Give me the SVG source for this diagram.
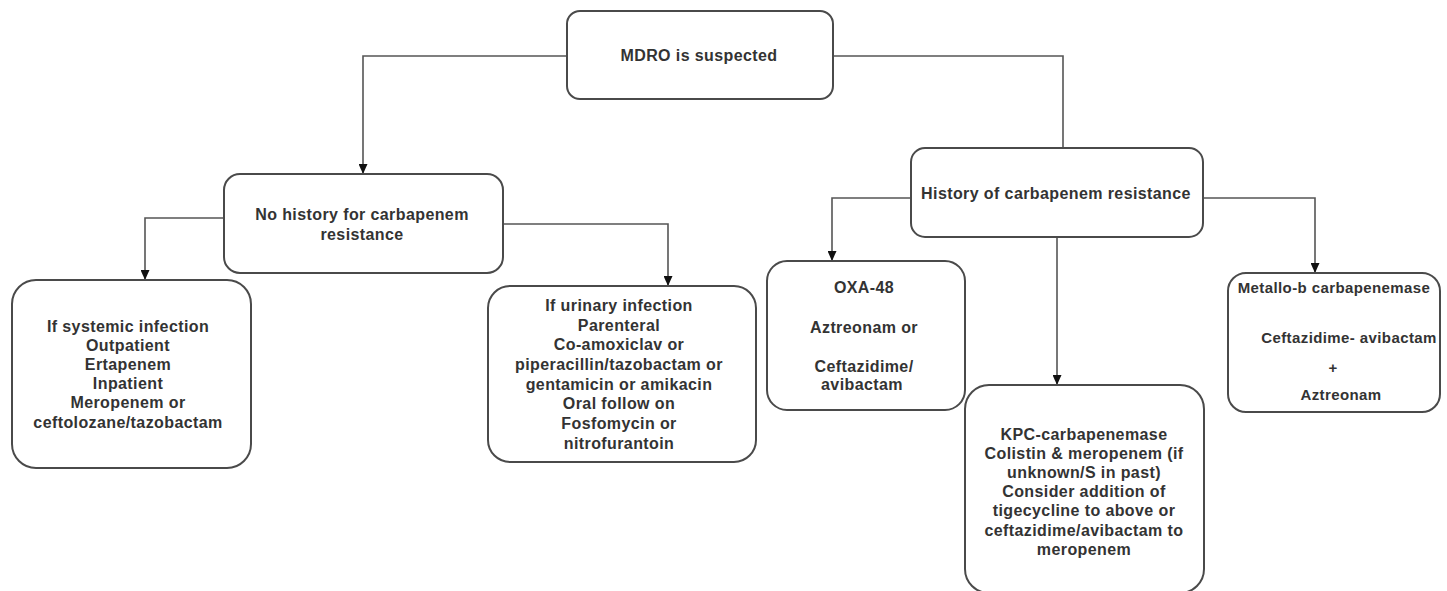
<svg xmlns="http://www.w3.org/2000/svg" width="1447" height="591" viewBox="0 0 1447 591">
  <style>
    .box { fill: #ffffff; stroke: #4a4a4a; stroke-width: 2; }
    .conn { fill: none; stroke: #555555; stroke-width: 1.6; }
    text { font-family: "Liberation Sans", Arial, sans-serif; font-weight: bold; font-size: 16px; letter-spacing: 0.4px; fill: #333333; text-anchor: middle; }
    .small { font-size: 15px; }
  </style>
  <defs>
    <marker id="arrow" markerWidth="10" markerHeight="9" refX="10" refY="4.5" orient="auto" markerUnits="userSpaceOnUse">
      <path d="M0,0 L10,4.5 L0,9 z" fill="#111111"/>
    </marker>
  </defs>
  <rect width="1447" height="591" fill="#ffffff"/>

  <g id="connectors">
    <path class="conn" d="M567,56 H363 V174" marker-end="url(#arrow)"/>
    <path class="conn" d="M833,56 H1063 V148"/>
    <path class="conn" d="M225,218 H145 V280" marker-end="url(#arrow)"/>
    <path class="conn" d="M503,224 H668 V286" marker-end="url(#arrow)"/>
    <path class="conn" d="M916,198 H832 V261" marker-end="url(#arrow)"/>
    <path class="conn" d="M1203,198 H1315 V273" marker-end="url(#arrow)"/>
    <path class="conn" d="M1057,237 V385" marker-end="url(#arrow)"/>
  </g>

  <g id="node-mdro">
    <rect class="box" x="567" y="11" width="266" height="88" rx="13"/>
    <text x="699" y="61">MDRO is suspected</text>
  </g>

  <g id="node-no-history">
    <rect class="box" x="224" y="174" width="279" height="99" rx="16"/>
    <text x="362" y="220">No history for carbapenem</text>
    <text x="362" y="240">resistance</text>
  </g>

  <g id="node-history">
    <rect class="box" x="911" y="148" width="292" height="89" rx="14"/>
    <text x="1056" y="199">History of carbapenem resistance</text>
  </g>

  <g id="node-systemic">
    <rect class="box" x="12" y="280" width="239" height="188" rx="24"/>
    <text x="128" y="332">If systemic infection</text>
    <text x="128" y="351">Outpatient</text>
    <text x="128" y="370">Ertapenem</text>
    <text x="128" y="389">Inpatient</text>
    <text x="128" y="408">Meropenem or</text>
    <text x="128" y="428">ceftolozane/tazobactam</text>
  </g>

  <g id="node-urinary">
    <rect class="box" x="488" y="286" width="268" height="176" rx="22"/>
    <text x="619" y="311">If urinary infection</text>
    <text x="619" y="331">Parenteral</text>
    <text x="619" y="350">Co-amoxiclav or</text>
    <text x="619" y="370">piperacillin/tazobactam or</text>
    <text x="619" y="390">gentamicin or amikacin</text>
    <text x="619" y="409">Oral follow on</text>
    <text x="619" y="429">Fosfomycin or</text>
    <text x="619" y="449">nitrofurantoin</text>
  </g>

  <g id="node-oxa48">
    <rect class="box" x="767" y="261" width="198" height="149" rx="20"/>
    <text x="864" y="293">OXA-48</text>
    <text x="864" y="333">Aztreonam or</text>
    <text x="864" y="372">Ceftazidime/</text>
    <text x="862" y="390">avibactam</text>
  </g>

  <g id="node-kpc">
    <rect class="box" x="965" y="385" width="239" height="208" rx="24"/>
    <text x="1084" y="440">KPC-carbapenemase</text>
    <text x="1084" y="459">Colistin &amp; meropenem (if</text>
    <text x="1084" y="478">unknown/S in past)</text>
    <text x="1084" y="497">Consider addition of</text>
    <text x="1084" y="516">tigecycline to above or</text>
    <text x="1084" y="536">ceftazidime/avibactam to</text>
    <text x="1084" y="555">meropenem</text>
  </g>

  <g id="node-metallo">
    <rect class="box" x="1228" y="273" width="212" height="139" rx="18"/>
    <text class="small" x="1334" y="293">Metallo-b carbapenemase</text>
    <text class="small" x="1349" y="343">Ceftazidime- avibactam</text>
    <text class="small" x="1333" y="373">+</text>
    <text class="small" x="1341" y="400">Aztreonam</text>
  </g>
</svg>
